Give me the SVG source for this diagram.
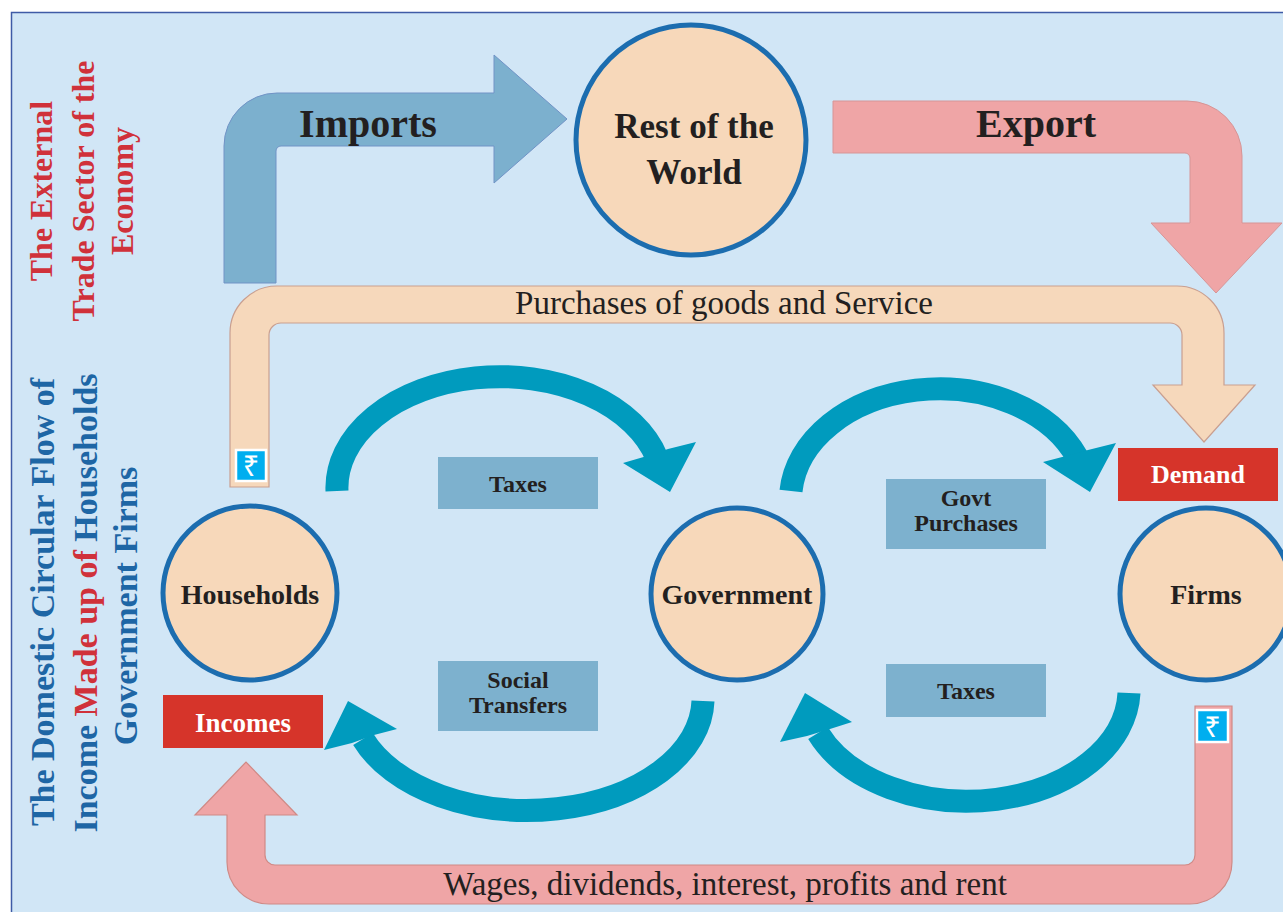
<svg xmlns="http://www.w3.org/2000/svg" width="1283" height="912" viewBox="0 0 1283 912">
<style>
.bold{font-family:"Liberation Serif","Times New Roman",serif;font-weight:bold;fill:#231F20;text-anchor:middle}
.reg{font-family:"Liberation Serif","Times New Roman",serif;fill:#231F20;text-anchor:middle}
.side{font-family:"Liberation Serif","Times New Roman",serif;font-weight:bold;text-anchor:middle}
.node{fill:#F7D8BA;stroke:#1C6DAF;stroke-width:5}
.box{fill:#7DB1CE}
.red{fill:#D6342A}
.arc{fill:none;stroke:#009BBE;stroke-width:23}
.head{fill:#009BBE}
.rupee{fill:#00AEEF;stroke:#FFFFFF;stroke-width:2.5}
.rs{font-family:"Noto Sans","DejaVu Sans",sans-serif;font-size:29px;fill:#FFFFFF;text-anchor:middle}
</style>
<rect x="0" y="0" width="1283" height="912" fill="#FFFFFF"/>
<rect x="11.5" y="12.5" width="1290" height="920" fill="#D1E6F6" stroke="#3F5BA6" stroke-width="1.5"/>

<g id="side-labels">
  <text class="side" font-size="32" fill="#D0313A" transform="translate(52,191) rotate(-90)">The External</text>
  <text class="side" font-size="32" fill="#D0313A" transform="translate(94,191) rotate(-90)">Trade Sector of the</text>
  <text class="side" font-size="32" fill="#D0313A" transform="translate(133,191) rotate(-90)">Economy</text>
  <text class="side" font-size="34" fill="#1E66A5" transform="translate(54,602) rotate(-90)">The Domestic Circular Flow of</text>
  <text class="side" font-size="34" fill="#1E66A5" transform="translate(97,603) rotate(-90)">Income <tspan fill="#D0313A">Made up of</tspan> Households</text>
  <text class="side" font-size="34" fill="#1E66A5" transform="translate(137,606) rotate(-90)">Government Firms</text>
</g>

<g id="connectors">
  <g id="imports-arrow">
    <path d="M224,283 V146 A53,53 0 0 1 277,93 H494 V55 L567,119 L494,183 V146 H281 A5,5 0 0 0 276,151 V283 Z" fill="#7CB0CE" stroke="#7193C6" stroke-width="1"/>
    <text class="bold" x="368" y="137" font-size="40">Imports</text>
  </g>
  <g id="export-arrow">
    <path d="M833,101 H1187 A55,55 0 0 1 1242,156 V223 H1282 L1216,293 L1151,223 H1190 V158 A5,5 0 0 0 1185,153 H833 Z" fill="#EFA5A6" stroke="#D69596" stroke-width="1"/>
    <text class="bold" x="1036" y="137" font-size="40">Export</text>
  </g>
  <g id="purchases-arrow">
    <path d="M230,487 V333 A47,47 0 0 1 277,286 H1177 A47,47 0 0 1 1224,333 V385 H1255 L1204,442 L1153,385 H1182 V335 A12,12 0 0 0 1170,323 H281 A12,12 0 0 0 269,335 V487 Z" fill="#F6D8BB" stroke="#C99F90" stroke-width="1.2"/>
    <text class="reg" x="724" y="314" font-size="33">Purchases of goods and Service</text>
  </g>
  <g id="wages-arrow">
    <path d="M1232,706 V862 A42,42 0 0 1 1190,904 H269 A42,42 0 0 1 227,862 V815 H195 L246,762 L297,815 H265 V855 A10,10 0 0 0 275,865 H1185 A10,10 0 0 0 1195,855 V706 Z" fill="#EFA5A6" stroke="#D08A86" stroke-width="1.2"/>
    <text class="reg" x="725" y="895" font-size="33">Wages, dividends, interest, profits and rent</text>
  </g>
  <g id="flow-taxes-top">
    <path class="arc" d="M337,491 A163,111 0 0 1 657,458"/>
    <polygon class="head" points="647,456 623,463 670,492 696,442 668,449"/>
  </g>
  <g id="flow-govt-purchases">
    <path class="arc" d="M791,491 A149,111 0 0 1 1077,457"/>
    <polygon class="head" points="1066,456 1043,462 1090,492 1116,443 1088,450"/>
  </g>
  <g id="flow-social-transfers">
    <path class="arc" d="M703,701 A176,112 0 0 1 363,739"/>
    <polygon class="head" points="374,735 397,729 348,701 324,750 352,743"/>
  </g>
  <g id="flow-taxes-bottom">
    <path class="arc" d="M1129,693 A162,112 0 0 1 818,733"/>
    <polygon class="head" points="830,729 852,722 805,693 780,742 807,736"/>
  </g>
  <g id="rupee-left">
    <rect class="rupee" x="236" y="450" width="30" height="31"/>
    <text class="rs" x="251" y="476">₹</text>
  </g>
  <g id="rupee-right">
    <rect class="rupee" x="1197" y="710" width="31" height="32"/>
    <text class="rs" x="1212.5" y="737">₹</text>
  </g>
</g>

<g id="node-rest-of-world">
  <circle class="node" cx="691" cy="140" r="115"/>
  <text class="bold" x="694" y="138" font-size="35">Rest of the</text>
  <text class="bold" x="694" y="184" font-size="35">World</text>
</g>
<g id="node-households">
  <circle class="node" cx="250" cy="593" r="87"/>
  <text class="bold" x="250" y="604" font-size="28">Households</text>
</g>
<g id="node-government">
  <circle class="node" cx="737" cy="594" r="86"/>
  <text class="bold" x="737" y="604" font-size="28">Government</text>
</g>
<g id="node-firms">
  <circle class="node" cx="1206" cy="594" r="86"/>
  <text class="bold" x="1206" y="604" font-size="28">Firms</text>
</g>

<g id="label-taxes-top">
  <rect class="box" x="438" y="457" width="160" height="52"/>
  <text class="bold" x="518" y="492" font-size="24">Taxes</text>
</g>
<g id="label-govt-purchases">
  <rect class="box" x="886" y="479" width="160" height="70"/>
  <text class="bold" x="966" y="506" font-size="24">Govt</text>
  <text class="bold" x="966" y="531" font-size="24">Purchases</text>
</g>
<g id="label-social-transfers">
  <rect class="box" x="438" y="661" width="160" height="70"/>
  <text class="bold" x="518" y="688" font-size="24">Social</text>
  <text class="bold" x="518" y="713" font-size="24">Transfers</text>
</g>
<g id="label-taxes-bottom">
  <rect class="box" x="886" y="664" width="160" height="53"/>
  <text class="bold" x="966" y="699" font-size="24">Taxes</text>
</g>
<g id="label-demand">
  <rect class="red" x="1118" y="448" width="160" height="53"/>
  <text class="bold" x="1198" y="483" font-size="26" style="fill:#FFFFFF">Demand</text>
</g>
<g id="label-incomes">
  <rect class="red" x="163" y="695" width="160" height="53"/>
  <text class="bold" x="243" y="732" font-size="27" style="fill:#FFFFFF">Incomes</text>
</g>
</svg>
